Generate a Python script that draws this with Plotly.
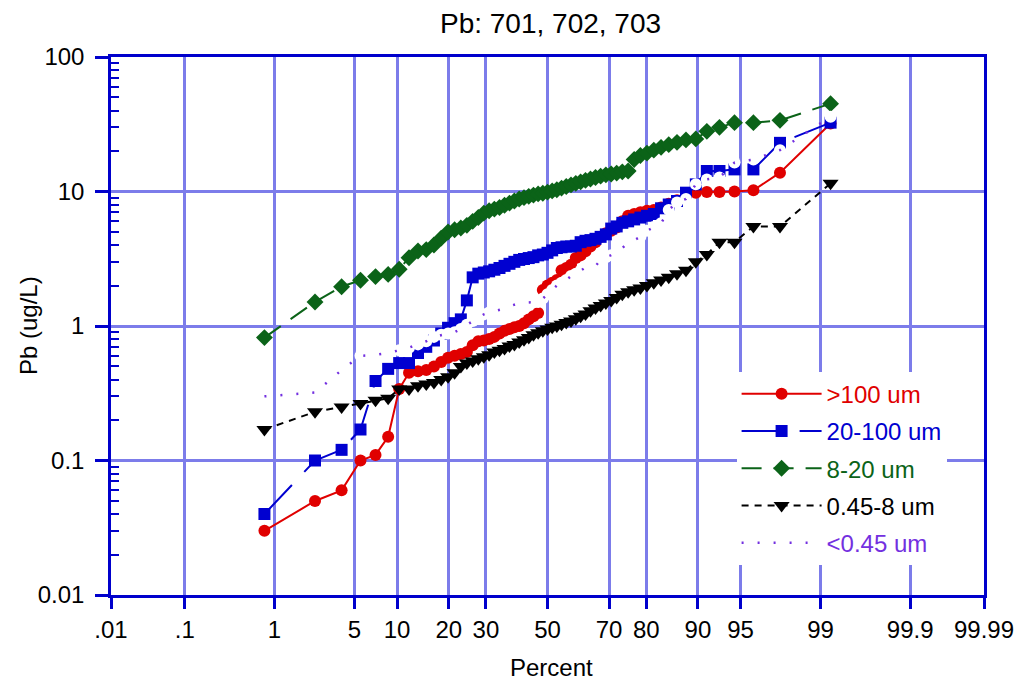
import plotly.graph_objects as go
from statistics import NormalDist

nd = NormalDist()

# ---- axis labels ----
x_tick_pct = [0.01, 0.1, 1, 5, 10, 20, 30, 50, 70, 80, 90, 95, 99, 99.9, 99.99]
x_tick_text = [".01", ".1", "1", "5", "10", "20", "30", "50", "70", "80", "90", "95", "99", "99.9", "99.99"]
y_tick_vals = [0.01, 0.1, 1, 10, 100]
y_tick_text = ["0.01", "0.1", "1", "10", "100"]

# ---- series values (sorted, ug/L) ----
red_vals = [0.030, 0.050, 0.060, 0.10, 0.11, 0.15, 0.34, 0.45, 0.46, 0.47,
            0.50, 0.54, 0.58, 0.60, 0.62, 0.64, 0.72, 0.77, 0.78, 0.80,
            0.83, 0.88, 0.92, 0.95, 0.98, 1.00, 1.05, 1.12, 1.18, 1.25,
            1.85, 2.00, 2.10, 2.20, 2.60, 2.70, 2.85, 3.20, 3.35, 3.60,
            3.90, 4.20, 4.60, 4.90, 5.10, 5.40, 6.00, 6.60, 6.80, 7.00,
            7.20, 7.30, 7.60, 8.10, 8.60, 9.40, 9.80, 9.90, 9.90, 10.0,
            10.2, 13.8, 32.0]
blue_vals = [0.040, 0.10, 0.12, 0.17, 0.39, 0.48, 0.53, 0.53, 0.63, 0.70,
             0.78, 0.88, 0.97, 1.05, 1.12, 1.55, 2.30, 2.45, 2.50, 2.55,
             2.62, 2.70, 2.80, 2.90, 3.00, 3.10, 3.15, 3.20, 3.25, 3.35,
             3.40, 3.50, 3.65, 3.80, 3.85, 3.90, 3.90, 3.95, 4.20, 4.30,
             4.35, 4.45, 4.60, 4.80, 5.30, 5.50, 5.85, 6.00, 6.20, 6.40,
             6.60, 6.80, 7.50, 8.00, 8.50, 9.80, 11.3, 14.2, 14.2, 14.6,
             14.6, 23.0, 32.5]
green_vals = [0.82, 1.51, 1.96, 2.19, 2.33, 2.42, 2.64, 3.22, 3.61, 3.70,
              4.00, 4.50, 5.00, 5.20, 5.35, 5.60, 6.00, 6.40, 6.90, 7.20,
              7.40, 7.60, 7.90, 8.20, 8.50, 8.80, 9.00, 9.20, 9.40, 9.60,
              9.70, 9.90, 10.1, 10.3, 10.6, 10.9, 11.2, 11.5, 11.8, 12.1,
              12.4, 12.7, 13.0, 13.3, 13.5, 13.7, 14.0, 14.2, 17.3, 18.5,
              19.3, 20.3, 21.3, 22.3, 23.2, 24.2, 24.6, 28.0, 30.0, 32.5,
              32.5, 33.8, 45.0]
black_vals = [0.17, 0.23, 0.25, 0.265, 0.28, 0.29, 0.34, 0.34, 0.36, 0.37,
              0.38, 0.40, 0.42, 0.45, 0.50, 0.53, 0.55, 0.57, 0.59, 0.61,
              0.64, 0.66, 0.68, 0.71, 0.73, 0.76, 0.79, 0.82, 0.86, 0.89,
              0.92, 0.95, 0.98, 1.00, 1.03, 1.06, 1.09, 1.13, 1.18, 1.23,
              1.30, 1.36, 1.42, 1.48, 1.55, 1.63, 1.72, 1.80, 1.86, 1.92,
              2.00, 2.10, 2.20, 2.30, 2.45, 2.60, 3.00, 3.40, 4.20, 4.20,
              5.50, 5.50, 11.5]
purple_vals = [0.30, 0.32, 0.47, 0.60, 0.61, 0.63, 0.66, 0.69, 0.73, 0.77,
               0.83, 0.86, 0.88, 0.90, 0.95, 1.02, 1.09, 1.15, 1.22, 1.26,
               1.29, 1.32, 1.35, 1.40, 1.44, 1.48, 1.49, 1.50, 1.50, 1.51,
               1.60, 1.72, 1.85, 2.00, 2.10, 2.20, 2.35, 2.45, 2.58, 2.72,
               2.75, 2.79, 3.10, 3.25, 3.36, 3.50, 3.80, 4.17, 4.35, 4.60,
               5.10, 5.45, 5.80, 7.30, 8.30, 8.80, 11.3, 12.3, 12.7, 16.4,
               17.3, 20.3, 36.0]

series_names = [">100 um", "20-100 um", "8-20 um", "0.45-8 um", "<0.45 um"]


def plotting_percent(vals):
    """Hazen plotting position (percent) of each sorted value."""
    n = len(vals)
    return [(i + 0.5) / n * 100.0 for i in range(n)]


def probit(pcts):
    """Map percent to the normal-probability axis coordinate."""
    return [nd.inv_cdf(p / 100.0) for p in pcts]


FONT = "Liberation Sans, Arial, Helvetica, sans-serif"
RED = "#e00000"
BLUE = "#0000d0"
GREEN = "#0b6318"
BLACK = "#000000"
PURPLE = "#7330e0"
AXIS = "#0000cc"
GRID = "#7c7cea"


def lname(txt, col):
    t = txt.replace("<", "&lt;").replace(">", "&gt;")
    return '<span style="color:%s">%s</span>' % (col, t)


fig = go.Figure()

specs = [
    (red_vals, series_names[0], RED, "solid", "circle", 12),
    (blue_vals, series_names[1], BLUE, "40px,18px", "square", 12),
    (green_vals, series_names[2], GREEN, "20px,12px", "diamond", 13),
    (black_vals, series_names[3], BLACK, "7px,6px", "triangle-down", 14),
]
for k, (vals, nm, col, dash, sym, sz) in enumerate(specs):
    fig.add_trace(go.Scatter(
        x=probit(plotting_percent(vals)), y=vals, mode="lines+markers",
        name=lname(nm, col), legendgroup="g%d" % k,
        line=dict(color=col, width=2, dash=dash),
        marker=dict(symbol=sym, size=sz, color=col, line=dict(width=0)),
    ))

# <0.45 um: white hollow markers with dotted purple line on top
px = probit(plotting_percent(purple_vals))
fig.add_trace(go.Scatter(
    x=px, y=purple_vals, mode="markers", showlegend=False, hoverinfo="skip",
    marker=dict(symbol="circle", size=12, color="white", line=dict(width=0)),
))
fig.add_trace(go.Scatter(
    x=px, y=purple_vals, mode="lines", name=lname(series_names[4], PURPLE),
    legendgroup="g4",
    line=dict(color=PURPLE, width=2.5, dash="2px,14px"),
))

xlo = nd.inv_cdf(x_tick_pct[0] / 100.0)
xhi = nd.inv_cdf(x_tick_pct[-1] / 100.0)

y_minor = [m * 10.0 ** e for e in range(-2, 2) for m in range(2, 10)]

fig.update_layout(
    width=1030, height=684,
    margin=dict(l=111, r=46, t=57, b=89),
    paper_bgcolor="white", plot_bgcolor="white",
    font=dict(family=FONT, size=24, color="black"),
    title=dict(text="Pb: 701, 702, 703", x=0.5345, xanchor="center",
               y=0.966, yanchor="middle", yref="container",
               font=dict(family=FONT, size=28, color="black")),
    showlegend=True,
    legend=dict(x=0.7166, y=0.415, xanchor="left", yanchor="top",
                bgcolor="white", borderwidth=0, tracegroupgap=3,
                itemwidth=80, font=dict(family=FONT, size=24)),
    xaxis=dict(
        range=[xlo, xhi], tickmode="array",
        tickvals=probit(x_tick_pct), ticktext=x_tick_text,
        showgrid=True, gridcolor=GRID, gridwidth=2.5,
        showline=True, linecolor=AXIS, linewidth=2.5, mirror=True,
        ticks="outside", ticklen=11, tickwidth=2.5, tickcolor=AXIS,
        tickfont=dict(family=FONT, size=24, color="black"),
        zeroline=False,
    ),
    yaxis=dict(
        type="log", range=[-2, 2], tickmode="array",
        tickvals=y_tick_vals, ticktext=y_tick_text,
        showgrid=True, gridcolor=GRID, gridwidth=2.5,
        showline=True, linecolor=AXIS, linewidth=2.5, mirror=True,
        ticks="outside", ticklen=13, tickwidth=2.5, tickcolor=AXIS,
        tickfont=dict(family=FONT, size=24, color="black"),
        ticklabelstandoff=6,
        minor=dict(tickmode="array", tickvals=y_minor, ticks="inside",
                   ticklen=8, tickwidth=1.5, tickcolor=AXIS, showgrid=False),
        zeroline=False,
    ),
    annotations=[
        dict(text="Percent", xref="paper", yref="paper", x=0.5045, y=-0.134,
             xanchor="center", yanchor="middle", showarrow=False,
             font=dict(family=FONT, size=24, color="black")),
        dict(text="Pb (ug/L)", xref="paper", yref="paper", x=-0.095, y=0.5,
             xanchor="center", yanchor="middle", textangle=-90, showarrow=False,
             font=dict(family=FONT, size=24, color="black")),
    ],
)

fig.write_html("out.html")
